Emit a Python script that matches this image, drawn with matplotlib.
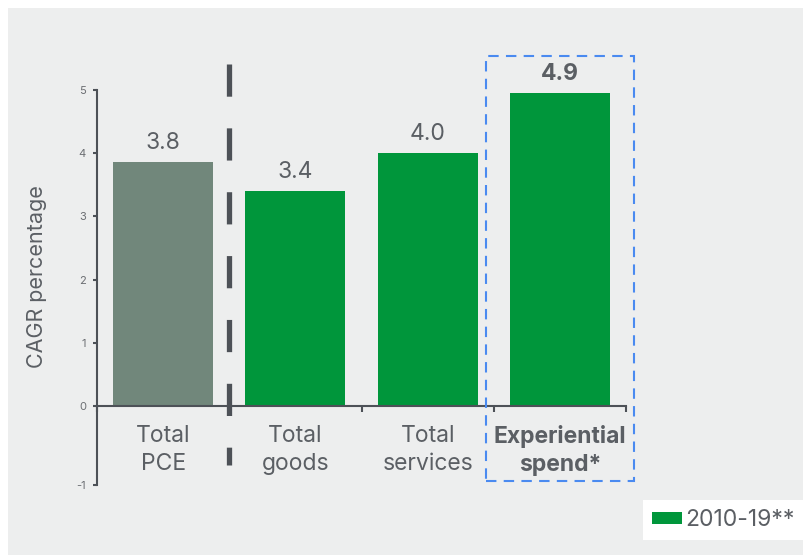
import matplotlib
matplotlib.use("Agg")
import matplotlib.pyplot as plt
from matplotlib.patches import Rectangle, Patch

plt.rcParams['font.family'] = ['Inter', 'DejaVu Sans']

# data
categories = ["Total\nPCE", "Total\ngoods", "Total\nservices", "Experiential\nspend*"]
cagr = [3.86, 3.4, 4.0, 4.95]
value_labels = ["3.8", "3.4", "4.0", "4.9"]
bar_colors = ["#71877B", "#00963B", "#00963B", "#00963B"]
series_name = "2010-19**"
yticks = [-1.25, 0, 1, 2, 3, 4, 5]
ytick_labels = ["-1", "0", "1", "2", "3", "4", "5"]

AX_COL = "#4D5157"
TXT_COL = "#5B5F64"

W, H = 804, 555
fig = plt.figure(figsize=(W / 100, H / 100), dpi=100)
fig.patches.append(Rectangle((8 / W, 0), 1, 1 - 8 / H, transform=fig.transFigure,
                             facecolor="#EDEEEE", edgecolor="none", zorder=-10))

ax = fig.add_axes([97 / W, 1 - 485 / H, (626 - 97) / W, (485 - 90) / H])
ax.set_facecolor("none")

x = list(range(len(categories)))
bars = ax.bar(x, cagr, width=0.756, color=bar_colors, zorder=2)
ax.set_xlim(-0.5, 3.5)
ax.set_ylim(-1.25, 5)

for i, (b, lab) in enumerate(zip(bars, value_labels)):
    ax.annotate(lab, (b.get_x() + b.get_width() / 2, b.get_height()),
                xytext=(0, 6), textcoords="offset points", ha="center", va="bottom",
                fontsize=16.5, color=TXT_COL,
                fontweight="bold" if i == 3 else "normal")

for s in ["top", "right"]:
    ax.spines[s].set_visible(False)
for s in ["left", "bottom"]:
    ax.spines[s].set_color(AX_COL)
    ax.spines[s].set_linewidth(1.5)
ax.spines["bottom"].set_position(("data", 0))

ax.set_yticks(yticks)
ax.set_yticklabels(ytick_labels)
ax.tick_params(axis="y", length=3, width=1.5, color=AX_COL, labelsize=8,
               labelcolor="#6B6E72", pad=5)

ax.set_xticks(x)
ax.set_xticklabels(categories, fontsize=16.5, color=TXT_COL, linespacing=1.35)
ax.get_xticklabels()[3].set_fontweight("bold")
ax.tick_params(axis="x", length=0, pad=14)
ax.set_xticks([-0.5, 0.5, 1.5, 2.5, 3.5], minor=True)
ax.tick_params(axis="x", which="minor", length=4, width=1.5, color=AX_COL)

ax.set_ylabel("CAGR percentage", fontsize=15.5, color=TXT_COL)
ax.yaxis.set_label_coords(-(97 - 47) / (626 - 97), (485 - 277) / (485 - 90))

# divider between total PCE and components
ax.plot([0.5, 0.5], [5.41, -0.93], color=AX_COL, lw=3.8, dashes=(6.1, 6.0),
        solid_capstyle="butt", clip_on=False, zorder=3)

# highlight box around experiential spend
ax.add_patch(Rectangle((2.44, -1.19), 1.12, 6.73, fill=False, edgecolor="#4A8AF0",
                       lw=1.5, linestyle=(0, (5, 3.5)), clip_on=False, zorder=4))

leg = fig.legend(handles=[Patch(facecolor="#00963B", label=series_name)],
                 loc="lower right", bbox_to_anchor=(1.0, 15 / H), borderaxespad=0,
                 frameon=True, fancybox=False, facecolor="white", edgecolor="none",
                 framealpha=1, fontsize=16.5, handlelength=1.3, handleheight=0.42,
                 handletextpad=0.15, borderpad=0.4)
for t in leg.get_texts():
    t.set_color(TXT_COL)

fig.savefig("out.png", dpi=100)
